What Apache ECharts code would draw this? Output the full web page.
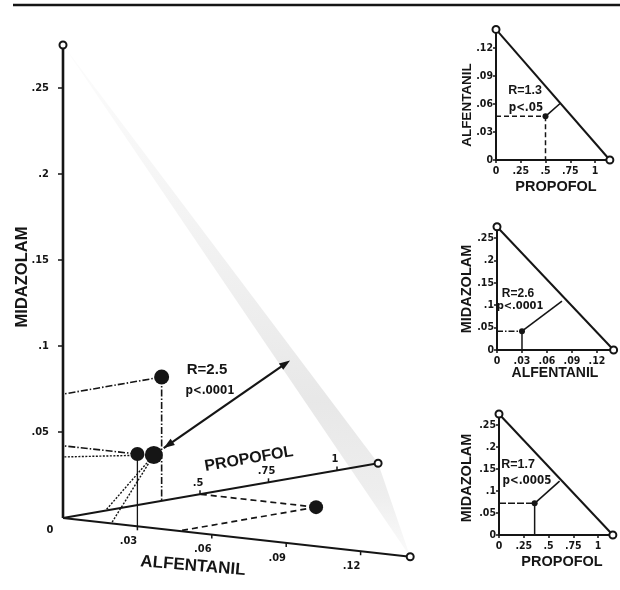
<!DOCTYPE html>
<html>
<head>
<meta charset="utf-8">
<script src="https://cdn.jsdelivr.net/npm/echarts@6/dist/echarts.min.js"></script>
<style>
  html, body { margin: 0; padding: 0; background: #fff; }
  #chart { width: 620px; height: 590px; }
</style>
</head>
<body>
<div id="chart"></div>
<script>
// ---- data -------------------------------------------------------------
// ED50 of each drug given alone (mg/kg): the additive isobole ends
const ed50Alfentanil = 0.14;
const ed50Propofol = 1.15;
const ed50Midazolam = 0.275;

// axis tick values
const alfentanilTicks = [0, 0.03, 0.06, 0.09, 0.12];
const propofolTicks = [0, 0.25, 0.5, 0.75, 1];
const propofolTicks3d = [0.5, 0.75, 1];
const midazolamTicks = [0, 0.05, 0.1, 0.15, 0.2, 0.25];

// ED50 of the combinations
const propofolAlfentanil = [0.5, 0.0468];      // [propofol, alfentanil]
const alfentanilMidazolam = [0.03, 0.042];     // [alfentanil, midazolam]
const propofolMidazolam = [0.36, 0.072];       // [propofol, midazolam]
const tripleCombo = [0.0195, 0.155, 0.0355];   // [alfentanil, propofol, midazolam]

// interaction ratios (additive / observed) and significance
const ratioPA = 1.3, ratioAM = 2.6, ratioPM = 1.7, ratioTriple = 2.5;
const ratioText = ['R=1.3', 'R=2.6', 'R=1.7', 'R=2.5'];
const pText = ['p<.05', 'p<.0001', 'p<.0005', 'p<.0001'];

// ---- helpers ----------------------------------------------------------
const INK = '#151515';
const NARROW = "'Liberation Sans Narrow','Arial Narrow','DejaVu Sans Condensed','Liberation Sans',sans-serif";
const SANS = "'Liberation Sans',Arial,sans-serif";

// oblique projection of (alfentanil, propofol, midazolam) onto the main grid;
// both grid axes are in midazolam units (1720 px per unit)
const UNIT = 1720;
const AX = 2480 / UNIT, AY = -277 / UNIT;
const PXv = 274 / UNIT, PY = 47.6 / UNIT;
function proj(a, p, m) { return [a * AX + p * PXv, m + a * AY + p * PY]; }

const fmtTick = v => v === 0 ? '0' : String(+(+v).toFixed(3)).replace(/^0\./, '.');
const scale3 = (pt, r) => pt.map(v => v * r);

// straight segments in the 3-D view
function segments3d(list, style, z) {
  return {
    type: 'custom', coordinateSystem: 'cartesian2d', xAxisIndex: 0, yAxisIndex: 0,
    silent: true, z: z || 2, clip: false,
    data: list.map(s => [...proj(...s[0]), ...proj(...s[1])]),
    encode: { x: [0, 2], y: [1, 3] },
    renderItem: (params, api) => {
      const p1 = api.coord([api.value(0), api.value(1)]);
      const p2 = api.coord([api.value(2), api.value(3)]);
      return {
        type: 'line',
        shape: { x1: p1[0], y1: p1[1], x2: p2[0], y2: p2[1] },
        style: Object.assign({ stroke: INK, fill: null, lineWidth: 1.5 }, style)
      };
    }
  };
}

// tick marks + labels along a 3-D axis
function axisTicks3d(values, toPoint, tickDx, tickDy, labDx, labDy) {
  return {
    type: 'custom', coordinateSystem: 'cartesian2d', xAxisIndex: 0, yAxisIndex: 0,
    silent: true, z: 4, clip: false,
    data: values.map(v => [...toPoint(v), v]),
    encode: { x: 0, y: 1 },
    renderItem: (params, api) => {
      const c = api.coord([api.value(0), api.value(1)]);
      return {
        type: 'group',
        children: [
          { type: 'line', shape: { x1: c[0], y1: c[1], x2: c[0] + tickDx, y2: c[1] + tickDy },
            style: { stroke: INK, lineWidth: 1.5 } },
          { type: 'text', x: c[0] + labDx, y: c[1] + labDy,
            style: { text: fmtTick(api.value(2)), fill: INK, fontSize: 11, fontWeight: 'bold',
                     fontFamily: NARROW, align: 'center', verticalAlign: 'middle' } }
        ]
      };
    }
  };
}

// ---- main (3-D) panel --------------------------------------------------
const A0 = [0, 0, 0];
const endA = [ed50Alfentanil, 0, 0];
const endP = [0, ed50Propofol, 0];
const endM = [0, 0, ed50Midazolam];

const ptPA = [propofolAlfentanil[1], propofolAlfentanil[0], 0];
const ptAM = [alfentanilMidazolam[0], 0, alfentanilMidazolam[1]];
const ptPM = [0, propofolMidazolam[0], propofolMidazolam[1]];
const ptT = tripleCombo.slice();

const series = [];

// additive isobole plane (seen nearly edge-on)
series.push({
  type: 'custom', coordinateSystem: 'cartesian2d', xAxisIndex: 0, yAxisIndex: 0,
  silent: true, z: 1, clip: false,
  data: [[0, 0]],
  renderItem: (params, api) => ({
    type: 'polygon',
    shape: { points: [endM, endP, endA].map(c => api.coord(proj(...c))) },
    style: {
      fill: new echarts.graphic.LinearGradient(0, 0, 0, 1, [
        { offset: 0, color: 'rgba(180,180,180,0.04)' },
        { offset: 0.35, color: 'rgba(170,170,170,0.14)' },
        { offset: 0.7, color: 'rgba(165,165,165,0.26)' },
        { offset: 0.88, color: 'rgba(170,170,170,0.20)' },
        { offset: 1, color: 'rgba(180,180,180,0.06)' }
      ])
    }
  })
});

// drug axes
series.push(segments3d([[A0, endM]], { lineWidth: 2.6 }, 3));
series.push(segments3d([[A0, endA], [A0, endP]], { lineWidth: 2 }, 3));

// guide lines from each combination point to its drug axes
series.push(segments3d([
  [ptPM, [0, 0, ptPM[2]]], [ptPM, [0, ptPM[1], 0]],
  [ptAM, [0, 0, ptAM[2]]]
], { lineWidth: 1.6, lineDash: [7, 2, 1.5, 2] }, 2));
series.push(segments3d([[ptAM, [ptAM[0], 0, 0]]], { lineWidth: 1.3 }, 2));
series.push(segments3d([
  [ptT, [0, 0, ptT[2]]], [ptT, [ptT[0], 0, 0]], [ptT, [0, ptT[1], 0]]
], { lineWidth: 1.4, lineDash: [2, 1.5] }, 2));
series.push(segments3d([
  [ptPA, [0, ptPA[1], 0]], [ptPA, [ptPA[0], 0, 0]]
], { lineWidth: 1.7, lineDash: [6, 4] }, 2));

// axis ticks + labels
series.push(axisTicks3d(alfentanilTicks.slice(1), v => proj(v, 0, 0), 0, 4, -9, 15));
series.push(axisTicks3d(propofolTicks3d, v => proj(0, v, 0), 0, -4, -2, -11));

// double arrow: triple combination -> additive plane
series.push({
  type: 'custom', coordinateSystem: 'cartesian2d', xAxisIndex: 0, yAxisIndex: 0,
  silent: true, z: 5, clip: false,
  data: [[0, 0]],
  renderItem: (params, api) => {
    const a = api.coord(proj(...ptT));
    const b = api.coord(proj(...scale3(ptT, ratioTriple)));
    const dx = b[0] - a[0], dy = b[1] - a[1], L = Math.hypot(dx, dy);
    const ux = dx / L, uy = dy / L;
    const s = [a[0] + ux * 12, a[1] + uy * 12];
    const head = (tip, hx, hy) => {
      const bx = tip[0] - hx * 11, by = tip[1] - hy * 11;
      return { type: 'polygon',
        shape: { points: [tip, [bx - hy * 3.8, by + hx * 3.8], [bx + hy * 3.8, by - hx * 3.8]] },
        style: { fill: INK } };
    };
    return { type: 'group', children: [
      { type: 'line', shape: { x1: s[0], y1: s[1], x2: b[0] - ux * 6, y2: b[1] - uy * 6 },
        style: { stroke: INK, lineWidth: 2.2 } },
      head(b, ux, uy), head(s, -ux, -uy)
    ] };
  }
});

// open circles at the single-drug ED50s
series.push({
  type: 'scatter', xAxisIndex: 0, yAxisIndex: 0, z: 6, silent: true,
  symbol: 'emptyCircle', symbolSize: 7,
  itemStyle: { color: INK, borderWidth: 1.5, opacity: 1 },
  data: [endM, endA, endP].map(c => proj(...c))
});

// combination points
const dotSizes3d = [15, 14, 18, 14];
series.push({
  type: 'scatter', xAxisIndex: 0, yAxisIndex: 0, z: 7, silent: true,
  symbolSize: (v, p) => dotSizes3d[p.dataIndex],
  itemStyle: { color: INK, opacity: 1 },
  data: [ptPM, ptAM, ptT, ptPA].map(c => proj(...c))
});

// ---- small 2-D isobolograms -------------------------------------------
function smallPlot(gi, xMax, yMax, pt, ratio, hStyle, vStyle) {
  const out = [];
  out.push({
    type: 'line', xAxisIndex: gi, yAxisIndex: gi, z: 3, silent: true,
    symbol: 'emptyCircle', symbolSize: 7, showSymbol: true,
    itemStyle: { color: INK, borderWidth: 1.5, opacity: 1 },
    lineStyle: { color: INK, width: 2 },
    data: [[0, yMax], [xMax, 0]]
  });
  out.push({
    type: 'line', xAxisIndex: gi, yAxisIndex: gi, z: 2, silent: true, symbol: 'none',
    lineStyle: Object.assign({ color: INK, width: 1.5 }, hStyle),
    data: [[0, pt[1]], [pt[0], pt[1]]]
  });
  out.push({
    type: 'line', xAxisIndex: gi, yAxisIndex: gi, z: 2, silent: true, symbol: 'none',
    lineStyle: Object.assign({ color: INK, width: 1.5 }, vStyle),
    data: [[pt[0], pt[1]], [pt[0], 0]]
  });
  out.push({
    type: 'line', xAxisIndex: gi, yAxisIndex: gi, z: 2, silent: true, symbol: 'none',
    lineStyle: { color: INK, width: 1.6 },
    data: [[pt[0], pt[1]], [pt[0] * ratio, pt[1] * ratio]]
  });
  out.push({
    type: 'scatter', xAxisIndex: gi, yAxisIndex: gi, z: 4, silent: true,
    symbolSize: 6, itemStyle: { color: INK, opacity: 1 }, data: [pt]
  });
  return out;
}

series.push(...smallPlot(1, ed50Propofol, ed50Alfentanil, propofolAlfentanil, ratioPA,
  { type: [5, 3] }, { type: [5, 3] }));
series.push(...smallPlot(2, ed50Alfentanil, ed50Midazolam, alfentanilMidazolam, ratioAM,
  { type: [6, 2, 1.5, 2] }, { type: 'solid' }));
series.push(...smallPlot(3, ed50Propofol, ed50Midazolam, propofolMidazolam, ratioPM,
  { type: [7, 2] }, { type: 'solid' }));

// ---- axes ---------------------------------------------------------------
function smallAxis(gi, max, ticks, margin) {
  return {
    type: 'value', gridIndex: gi, min: 0, max: max,
    axisLine: { show: true, onZero: false, lineStyle: { color: INK, width: 2 } },
    axisTick: { show: true, length: 3, customValues: ticks, lineStyle: { color: INK, width: 1.5 } },
    axisLabel: { customValues: ticks, formatter: fmtTick, margin: margin, color: INK,
                 fontSize: 10.5, fontWeight: 'bold', fontFamily: NARROW },
    splitLine: { show: false }
  };
}

const grids = [
  { left: 63, top: 518 - 0.3 * UNIT, width: 0.21 * UNIT, height: 0.33 * UNIT },
  { left: 496, top: 160 - ed50Alfentanil * 933, width: ed50Propofol * 99, height: ed50Alfentanil * 933 },
  { left: 497, top: 350 - ed50Midazolam * 448, width: ed50Alfentanil * 833, height: ed50Midazolam * 448 },
  { left: 499, top: 535 - ed50Midazolam * 440, width: ed50Propofol * 99, height: ed50Midazolam * 440 }
];

const xAxes = [
  { type: 'value', gridIndex: 0, min: 0, max: 0.21, show: false },
  smallAxis(1, ed50Propofol, propofolTicks, 6),
  smallAxis(2, ed50Alfentanil, alfentanilTicks, 6),
  smallAxis(3, ed50Propofol, propofolTicks, 6)
];
const yAxes = [
  {
    type: 'value', gridIndex: 0, min: -0.03, max: 0.3,
    axisLine: { show: false },
    axisTick: { show: true, length: 5, customValues: midazolamTicks.slice(1),
                lineStyle: { color: INK, width: 1.5 } },
    axisLabel: { customValues: midazolamTicks.slice(1), formatter: fmtTick, margin: 14,
                 color: INK, fontSize: 11, fontWeight: 'bold', fontFamily: NARROW },
    splitLine: { show: false }
  },
  smallAxis(1, ed50Alfentanil, alfentanilTicks, 3),
  smallAxis(2, ed50Midazolam, midazolamTicks, 3),
  smallAxis(3, ed50Midazolam, midazolamTicks, 3)
];

// ---- titles and annotations --------------------------------------------
function txt(text, x, y, size, rot, family) {
  return { type: 'text', x: x, y: y, rotation: rot || 0, silent: true, z: 10,
    style: { text: text, fill: INK, fontSize: size, fontWeight: 'bold',
             fontFamily: family || SANS, align: 'center', verticalAlign: 'middle' } };
}
const graphic = [
  { type: 'line', silent: true, shape: { x1: 13, y1: 5, x2: 620, y2: 5 },
    style: { stroke: INK, lineWidth: 2.5 } },
  // main panel
  txt('MIDAZOLAM', 22.5, 277, 16.5, Math.PI / 2),
  txt('ALFENTANIL', 193, 566, 17, -0.085),
  txt('PROPOFOL', 249, 459, 16, 0.17),
  txt('0', 50, 530, 11, 0, NARROW),
  txt(ratioText[3], 207, 370, 15),
  txt(pText[3], 210, 391, 11.5, 0, NARROW),
  // propofol / alfentanil
  txt('ALFENTANIL', 467, 105, 13.5, Math.PI / 2),
  txt('PROPOFOL', 556, 187, 14.5),
  txt(ratioText[0], 525, 91, 12.5),
  txt(pText[0], 526, 108, 11.5, 0, NARROW),
  // alfentanil / midazolam
  txt('MIDAZOLAM', 467, 289, 14.5, Math.PI / 2),
  txt('ALFENTANIL', 555, 373, 14),
  txt(ratioText[1], 518, 294, 12),
  txt(pText[1], 520, 306, 11, 0, NARROW),
  // propofol / midazolam
  txt('MIDAZOLAM', 467, 478, 14.5, Math.PI / 2),
  txt('PROPOFOL', 562, 562, 14.5),
  txt(ratioText[2], 518, 465, 12.5),
  txt(pText[2], 527, 481, 11.5, 0, NARROW)
];

const chart = echarts.init(document.getElementById('chart'), null, { renderer: 'canvas' });
chart.setOption({
  animation: false,
  backgroundColor: '#fff',
  grid: grids,
  xAxis: xAxes,
  yAxis: yAxes,
  series: series,
  graphic: graphic
});
</script>
</body>
</html>
